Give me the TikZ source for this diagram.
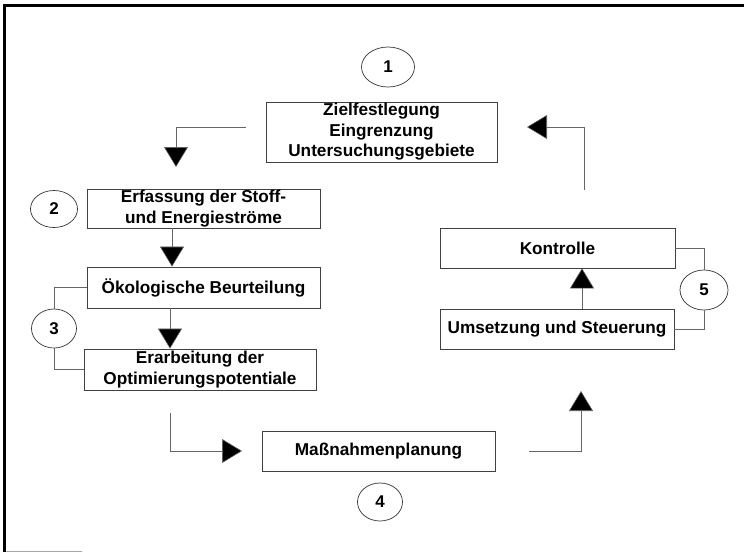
\documentclass[tikz,border=0pt]{standalone}
\usepackage{fontspec}
\setmainfont{Liberation Sans}
\usetikzlibrary{arrows.meta,shapes.geometric,calc}
\begin{document}
\begin{tikzpicture}[x=1pt,y=-1pt,
  box/.style={draw=black!75,line width=0.7pt,rectangle,inner sep=0pt,align=center,
    font=\fontsize{17.2}{20.5}\selectfont\bfseries},
  num/.style={draw=black!80,line width=0.7pt,ellipse,inner sep=0pt,
    font=\fontsize{17}{19}\selectfont\bfseries},
  arr/.style={draw=black!60,line width=0.6pt,-{Triangle[width=24pt,length=20pt,fill=black]}},
  lnk/.style={draw=black!60,line width=0.6pt}]
\useasboundingbox (0,0) rectangle (744,552);
% frame
\draw[line width=3pt,miter limit=10] (4.5,552) -- (4.5,5.5) -- (744,5.5);
\draw[black!35,line width=1pt] (6,551) -- (82,551);
% boxes
\node[box,minimum width=231pt,minimum height=60pt] (b1) at (381.5,132) {Zielfestlegung\\Eingrenzung\\Untersuchungsgebiete};
\node[box,minimum width=233pt,minimum height=39pt] (b2) at (203.5,208.5) {Erfassung der Stoff-\\und Energieströme};
\node[box,minimum width=233pt,minimum height=41pt] (b3) at (203.5,287.5) {Ökologische Beurteilung};
\node[box,minimum width=232pt,minimum height=41pt] (b4) at (200,369.5) {Erarbeitung der\\Optimierungspotentiale};
\node[box,minimum width=233pt,minimum height=40pt] (b5) at (378.5,451) {Maßnahmenplanung};
\node[box,minimum width=234pt,minimum height=40pt] (b6) at (557,329) {Umsetzung und Steuerung};
\node[box,minimum width=235pt,minimum height=40pt] (b7) at (557.5,248) {Kontrolle};
% number ellipses
\node[num,minimum width=53pt,minimum height=40pt] (c1) at (388,67) {1};
\node[num,minimum width=47pt,minimum height=37pt] (c2) at (54,209) {2};
\node[num,minimum width=45pt,minimum height=39pt] (c3) at (54,328.5) {3};
\node[num,minimum width=45pt,minimum height=38pt] (c4) at (380,502) {4};
\node[num,minimum width=48pt,minimum height=40pt] (c5) at (704,290) {5};
% helper coordinates
\coordinate (a1s) at (246,127);
\coordinate (a1e) at (176,167);
\coordinate (x2) at (172,0);
\coordinate (x3) at (170,0);
\coordinate (a4s) at (170,413);
\coordinate (a4e) at (242,451);
\coordinate (a5s) at (529,451);
\coordinate (a5e) at (581,391);
\coordinate (x6) at (582,0);
\coordinate (a7s) at (584,190);
\coordinate (a7e) at (527,127);
% arrows
\draw[arr] (a1s) -| (a1e);
\draw[arr] (b2.south -| x2) -- (b3.north -| x2);
\draw[arr] (b3.south -| x3) -- (b4.north -| x3);
\draw[arr] (a4s) |- (a4e);
\draw[arr] (a5s) -| (a5e);
\draw[arr] (b6.north -| x6) -- (b7.south -| x6);
\draw[arr] (a7s) |- (a7e);
% ellipse links
\draw[lnk] (c3.north) |- (b3.west);
\draw[lnk] (c3.south) |- (b4.west);
\draw[lnk] (b7.east) -| (c5.north);
\draw[lnk] (c5.south) |- (b6.east);
\end{tikzpicture}
\end{document}
